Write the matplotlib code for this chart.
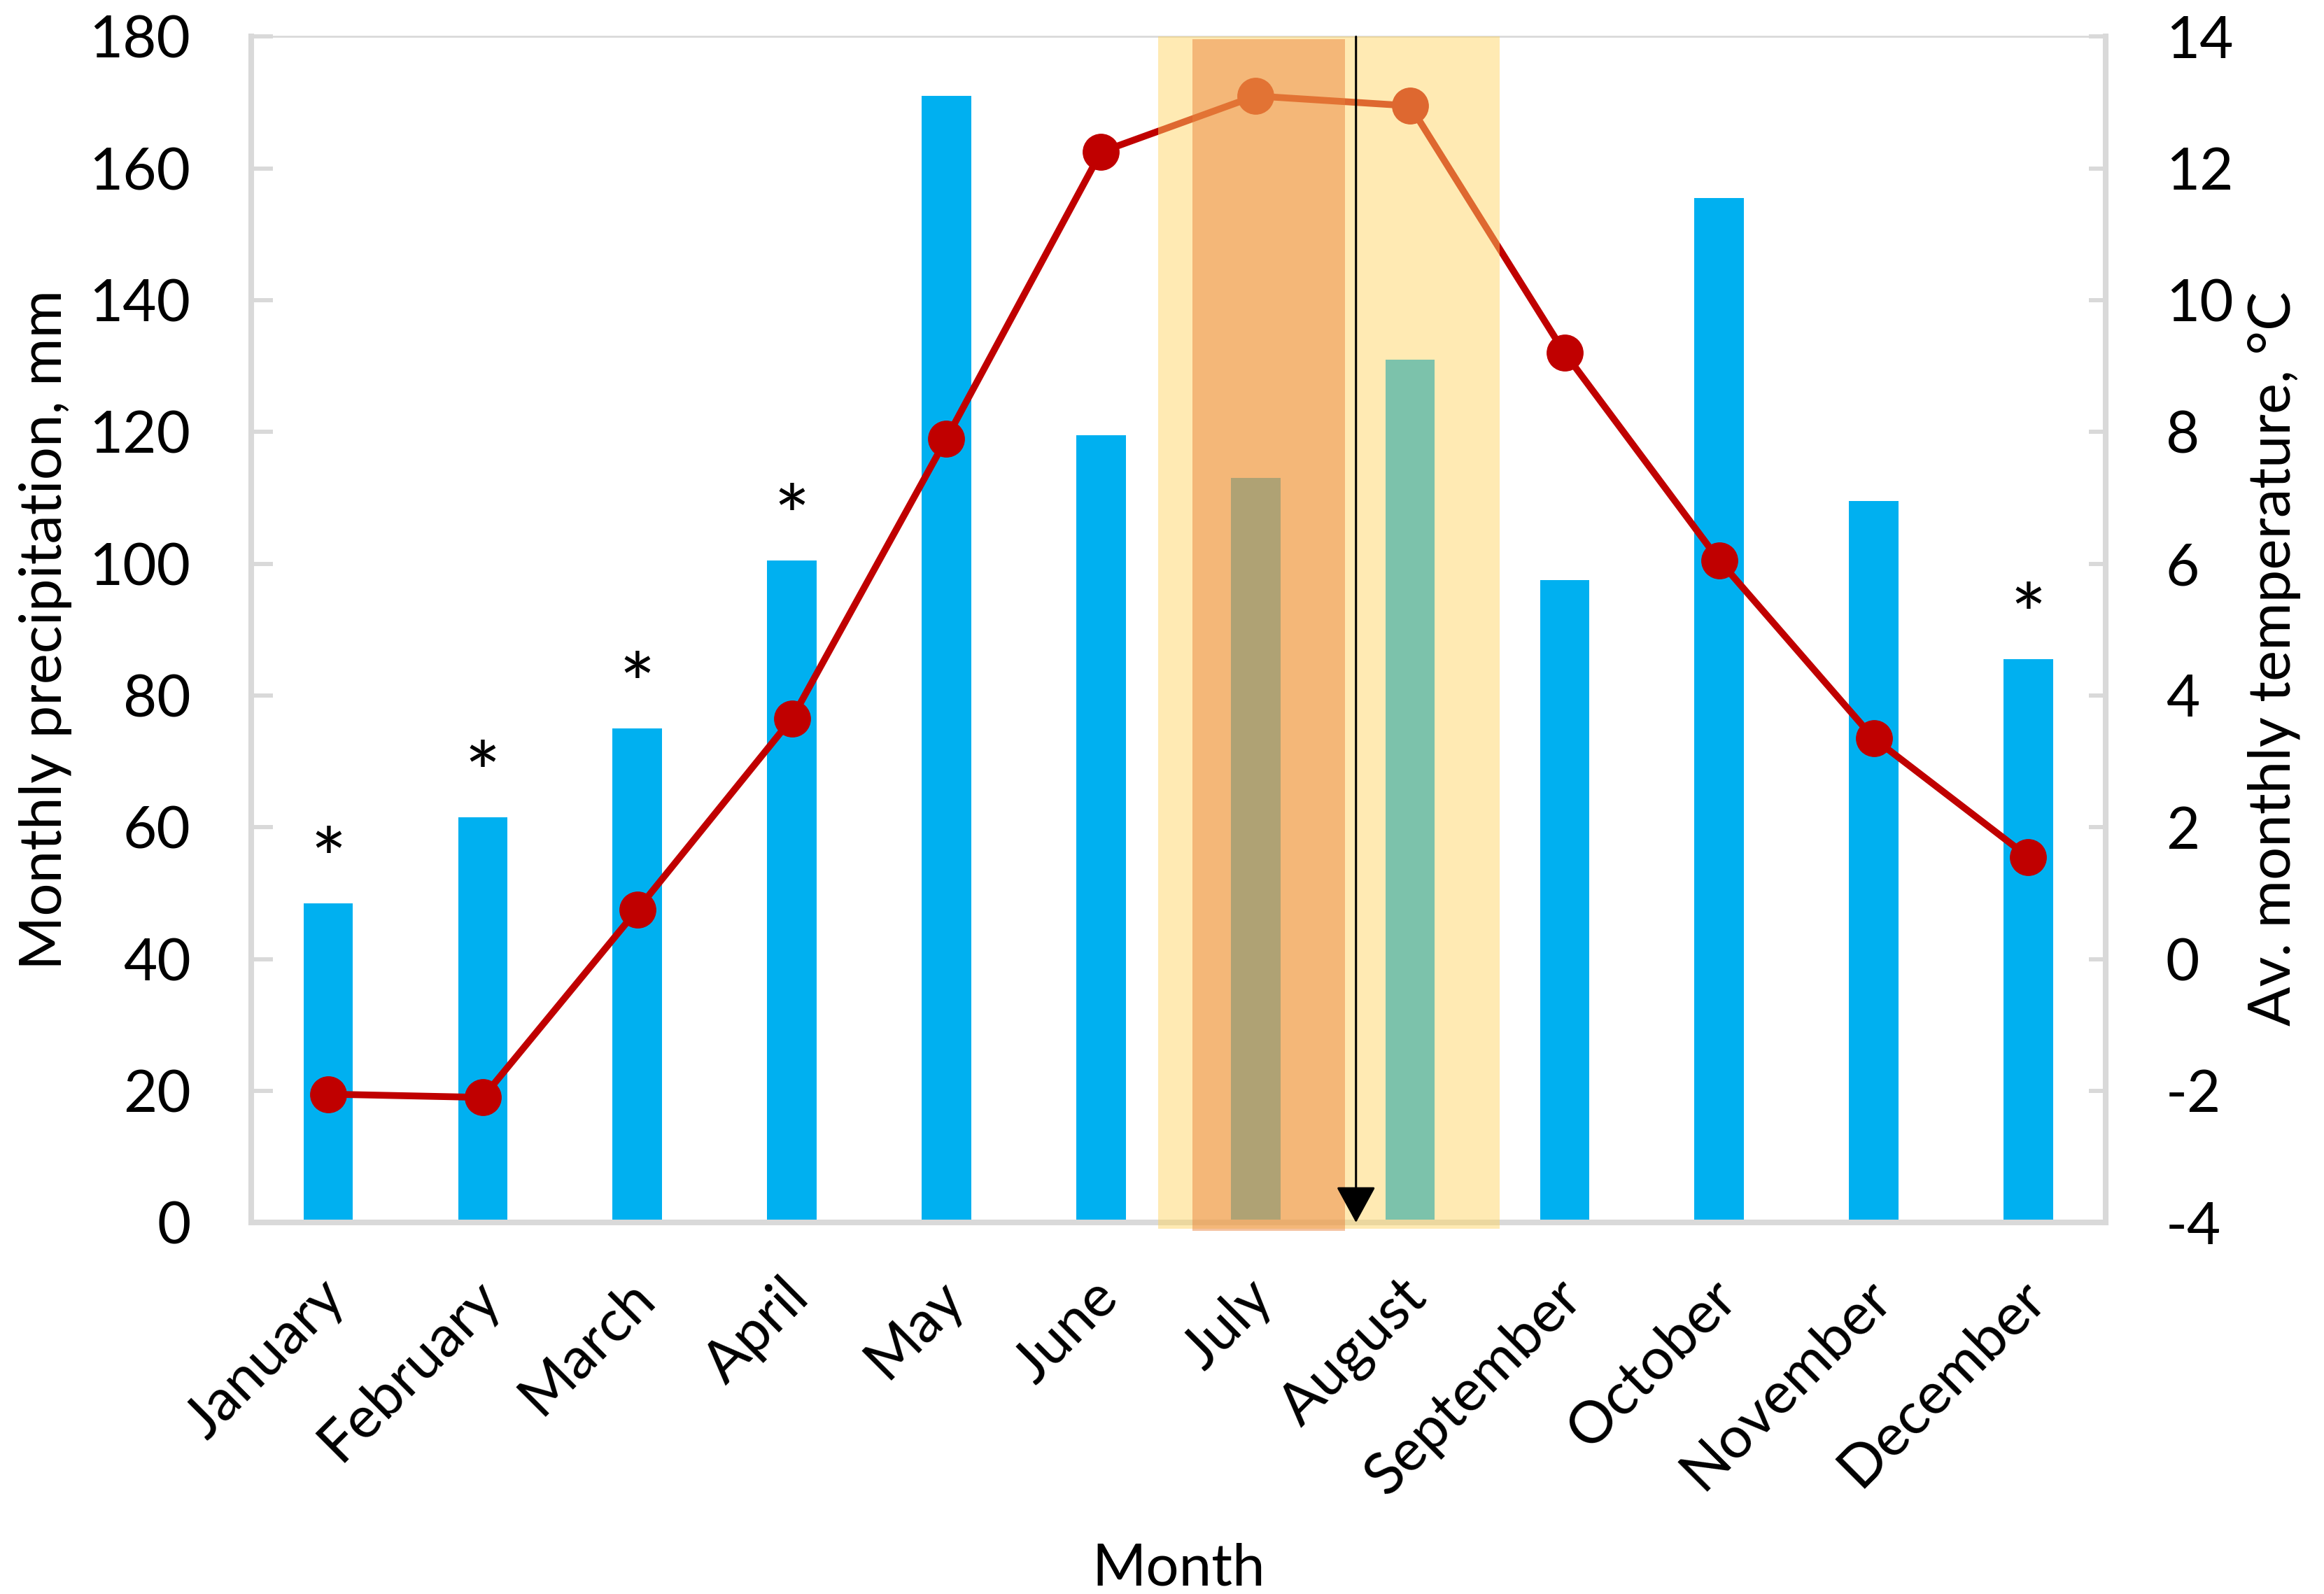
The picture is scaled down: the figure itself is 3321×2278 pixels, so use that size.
import matplotlib
matplotlib.use('Agg')
import matplotlib.pyplot as plt
import matplotlib.transforms as mtransforms
import numpy as np

months = ['January', 'February', 'March', 'April', 'May', 'June', 'July',
          'August', 'September', 'October', 'November', 'December']
precip = [48.5, 61.5, 75, 100.5, 171, 119.5, 113, 131, 97.5, 155.5, 109.5, 85.5]
temp = [-2.05, -2.1, 0.75, 3.65, 7.9, 12.25, 13.1, 12.95, 9.2, 6.05, 3.35, 1.55]
starred = ['January', 'February', 'March', 'April', 'December']
summer_span = (5.37, 7.58)
peak_span = (5.59, 6.58)
arrow_x = 6.65

plt.rcParams['font.family'] = ['Lato', 'DejaVu Sans']
plt.rcParams['axes.unicode_minus'] = False
fs = 60
grey = '#D9D9D9'

fig = plt.figure(figsize=(33.21, 22.78), dpi=100)
ax = fig.add_axes([0.108, 0.233, 0.798, 0.744])
x = np.arange(len(months))
ax.bar(x, precip, width=0.32, color='#00B0F0', zorder=2)
ax.set_xlim(-0.5, 11.5)
ax.set_ylim(0, 180)
ax.set_yticks(np.arange(0, 181, 20))
ax.set_xticks(x)
ax.set_xticklabels(months, rotation=45, ha='right', va='center', rotation_mode='anchor')
ax.tick_params(axis='y', direction='in', length=22, width=4.3, color=grey, pad=62, labelsize=fs)
ax.tick_params(axis='x', length=0, pad=68, labelsize=fs)
for lab in ax.get_xticklabels():
    lab.set_transform(lab.get_transform() + mtransforms.ScaledTranslation(0.12, 0, fig.dpi_scale_trans))

# asterisks over the starred months
for m in starred:
    i = months.index(m)
    ax.text(i, precip[i] + 2, '*', ha='center', va='baseline', fontsize=88)

for s in ['left', 'bottom']:
    ax.spines[s].set_color(grey)
    ax.spines[s].set_linewidth(5.8)
ax.spines['top'].set_color(grey)
ax.spines['top'].set_linewidth(2)
ax.spines['right'].set_visible(False)

ax.set_ylabel('Monthly precipitation, mm', fontsize=fs)
ax.yaxis.set_label_coords(-0.0966, 0.5)
ax.set_xlabel('Month', fontsize=fs)
ax.xaxis.set_label_coords(0.500, -0.27)

ax2 = ax.twinx()
ax2.set_ylim(-4, 14)
ax2.set_yticks(np.arange(-4, 15, 2))
ax2.plot(x, temp, color='#C00000', lw=7, marker='o', ms=37, zorder=3)
ax2.axvspan(*summer_span, ymin=-0.005, ymax=1, color='#FFD664', alpha=0.49, lw=0, zorder=4, clip_on=False)
ax2.axvspan(*peak_span, ymin=-0.007, ymax=0.998, color='#E88039', alpha=0.48, lw=0, zorder=5, clip_on=False)
ax2.annotate('', xy=(arrow_x, -4), xytext=(arrow_x, 14),
             arrowprops=dict(arrowstyle='-|>,head_width=1.8,head_length=3.3', color='black',
                             lw=2.2, shrinkA=0, shrinkB=0, mutation_scale=10),
             zorder=6, annotation_clip=False)
ax2.tick_params(axis='y', direction='in', length=17, width=4.3, color=grey, pad=62, labelsize=fs)
for s in ['left', 'bottom', 'top']:
    ax2.spines[s].set_visible(False)
ax2.spines['right'].set_color(grey)
ax2.spines['right'].set_linewidth(5.8)
ax2.set_ylabel('Av. monthly temperature, °C', fontsize=fs, rotation=90)
ax2.yaxis.set_label_coords(1.0765, 0.4755)

fig.savefig('out.png', dpi=100)
